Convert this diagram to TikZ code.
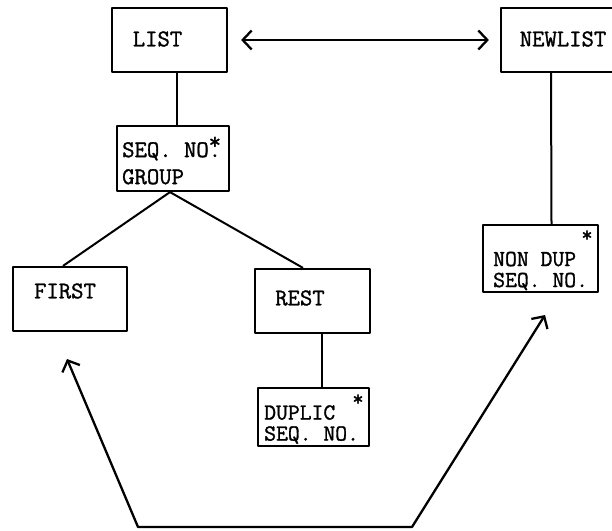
\documentclass[tikz,border=0pt]{standalone}
\usepackage{fontspec}
\newfontfamily\typefont[AutoFakeBold=1.3]{Latin Modern Mono}
\usetikzlibrary{arrows.meta,positioning}
\begin{document}
\begin{tikzpicture}[x=1pt,y=-1pt,line join=round,
    box/.style={draw,line width=2.2pt,inner sep=0pt,minimum width=115pt,minimum height=64pt},
    txt/.style={inner sep=0pt,align=left,font=\fontsize{24}{27}\selectfont\typefont\bfseries},
    star/.style={inner sep=0pt,font=\fontsize{22}{22}\selectfont\typefont\bfseries},
    link/.style={line width=2pt},
    barb/.style={line width=2.3pt,{Straight Barb[length=9pt,width=19pt]}-{Straight Barb[length=9pt,width=19pt]}}]
    \path[use as bounding box,clip] (0,0) rectangle (612,530);
        \node[box] (list) at (169.5,40) {};
        \node[box,minimum width=130pt] (newlist) at (566,40) {};
        \node[box,minimum width=112pt,minimum height=65pt] (seq) at (173,158.5) {};
        \node[box,minimum width=114pt] (first) at (70,299) {};
        \node[box] (rest) at (312.5,301) {};
        \node[box,minimum width=111pt,minimum height=58pt] (duplic) at (313.5,417) {};
        \node[box,minimum height=67pt] (nondup) at (540.5,258.5) {};
        \node[txt] (listtxt) at (157.5,39) {LIST};
        \node[txt] (newlisttxt) at (563,39) {NEWLIST};
        \node[txt,anchor=west] (seqtxt) at (122,160.5) {SEQ. NO.\llap{\raisebox{8pt}{*}}\\GROUP};
        \node[txt] (firsttxt) at (65,291) {FIRST};
        \node[txt] (resttxt) at (300,298) {REST};
        \node[txt,anchor=west,font=\fontsize{23}{21}\selectfont\typefont\bfseries] (duplictxt) at (264,424.5) {DUPLIC\\SEQ. NO.};
        \node[txt,anchor=west,font=\fontsize{23}{21}\selectfont\typefont\bfseries] (nonduptxt) at (493,271) {NON DUP\\SEQ. NO.};
        \node[star] (duplicstar) at (358,400) {*};
        \node[star] (nondupstar) at (587,236) {*};
        \draw[link] ([xshift=7.5pt]list.south) -- ([xshift=4pt]seq.north);
        \draw[link] ([xshift=-3pt]seq.south) -- ([xshift=-7pt]first.north);
        \draw[link] ([xshift=-3pt]seq.south) -- ([xshift=-9.5pt]rest.north);
        \draw[link] ([xshift=9.5pt]rest.south) -- ([xshift=8.5pt]duplic.north);
        \draw[link] ([xshift=-15pt]newlist.south) -- ([xshift=11pt]nondup.north);
        \draw[barb,shorten <=13pt,shorten >=11pt] (list.east) -- (newlist.west);
        \coordinate (tipa) at (67,359);
        \coordinate (corna) at (138,527);
        \coordinate (cornb) at (412,527);
        \coordinate (tipb) at (545,315);
        \draw[barb] (tipa) -- (corna) -- (cornb) -- (tipb);
\end{tikzpicture}
\end{document}
